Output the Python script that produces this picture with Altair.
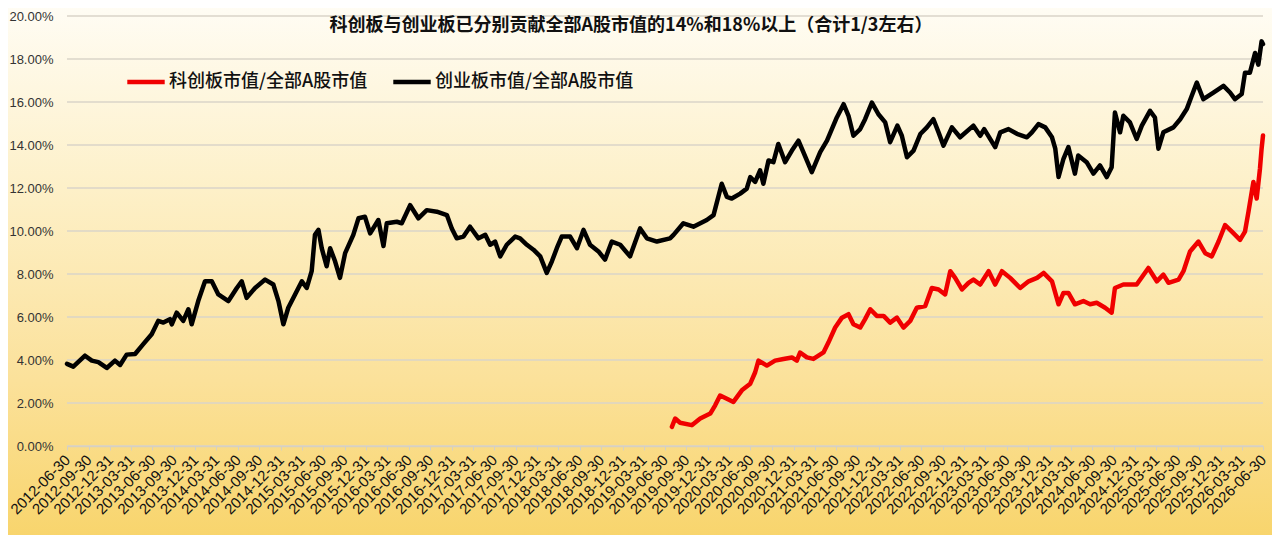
import altair as alt
import pandas as pd

# ---------------- data ----------------
cyb_name = "创业板市值/全部A股市值"
kcb_name = "科创板市值/全部A股市值"

cyb_dates = [
    "2012-06-30","2012-07-27","2012-09-15","2012-10-14","2012-11-11","2012-12-17","2013-01-21","2013-02-12",
    "2013-03-12","2013-04-17","2013-05-22","2013-06-27","2013-07-25","2013-08-16","2013-09-13","2013-09-21",
    "2013-10-12","2013-11-09","2013-12-01","2013-12-15","2014-01-12","2014-02-10","2014-03-11","2014-04-08",
    "2014-05-21","2014-06-26","2014-07-17","2014-08-07","2014-09-12","2014-10-25","2014-11-29","2014-12-21",
    "2015-01-11","2015-02-01","2015-03-02","2015-03-31","2015-04-21","2015-05-12","2015-05-26","2015-06-10",
    "2015-06-24","2015-07-15","2015-07-30","2015-08-20","2015-09-10","2015-10-02","2015-11-06","2015-11-28",
    "2015-12-26","2016-01-17","2016-02-21","2016-03-14","2016-03-28","2016-05-10","2016-05-31","2016-07-06",
    "2016-08-10","2016-09-15","2016-10-28","2016-12-10","2016-12-31","2017-01-21","2017-02-19","2017-03-19",
    "2017-04-24","2017-05-23","2017-06-13","2017-07-04","2017-07-26","2017-08-23","2017-09-28","2017-10-19",
    "2017-11-17","2017-12-15","2018-01-13","2018-02-10","2018-03-04","2018-03-25","2018-04-15","2018-05-21",
    "2018-06-19","2018-07-17","2018-08-14","2018-09-19","2018-10-17","2018-11-15","2018-12-21","2019-02-01",
    "2019-03-16","2019-04-14","2019-05-27","2019-07-22","2019-08-06","2019-09-17","2019-10-30","2019-12-26",
    "2020-01-24","2020-02-28","2020-03-21","2020-04-11","2020-05-17","2020-06-14","2020-06-29","2020-07-20",
    "2020-08-10","2020-08-24","2020-09-15","2020-10-06","2020-10-27","2020-11-25","2020-12-24","2021-01-21",
    "2021-02-11","2021-03-19","2021-04-24","2021-05-23","2021-07-04","2021-08-02","2021-08-23","2021-09-13",
    "2021-10-12","2021-11-02","2021-12-01","2021-12-29","2022-01-27","2022-02-17","2022-03-20","2022-04-08",
    "2022-04-30","2022-05-28","2022-06-26","2022-07-24","2022-08-21","2022-09-12","2022-10-03","2022-11-08",
    "2022-12-13","2023-02-08","2023-03-09","2023-03-26","2023-05-12","2023-06-03","2023-07-08","2023-08-13",
    "2023-09-25","2023-10-16","2023-11-13","2023-12-12","2024-01-10","2024-01-24","2024-02-07","2024-02-28",
    "2024-03-20","2024-04-17","2024-05-01","2024-06-06","2024-07-05","2024-08-02","2024-08-31","2024-09-21",
    "2024-10-05","2024-10-27","2024-11-10","2024-12-08","2025-01-06","2025-01-28","2025-03-04","2025-03-25",
    "2025-04-09","2025-04-30","2025-06-12","2025-07-11","2025-08-08","2025-08-29","2025-09-20","2025-10-18",
    "2025-11-30","2026-01-12","2026-02-09","2026-03-02","2026-03-31","2026-04-14","2026-05-05","2026-05-27",
    "2026-06-10","2026-06-24","2026-06-30",
]
cyb_values = [
    3.82, 3.69, 4.20, 3.97, 3.90, 3.63, 3.97, 3.77,
    4.25, 4.28, 4.74, 5.20, 5.82, 5.74, 5.90, 5.66,
    6.20, 5.82, 6.36, 5.66, 6.74, 7.66, 7.66, 7.05,
    6.74, 7.35, 7.66, 6.89, 7.35, 7.74, 7.51, 6.74,
    5.66, 6.43, 7.05, 7.66, 7.35, 8.13, 9.82, 10.05,
    9.20, 8.36, 9.20, 8.59, 7.82, 8.97, 9.82, 10.59,
    10.66, 9.89, 10.51, 9.30, 10.36, 10.43, 10.36, 11.20,
    10.59, 10.97, 10.90, 10.74, 10.12, 9.66, 9.74, 10.20,
    9.66, 9.82, 9.36, 9.51, 8.82, 9.36, 9.74, 9.66,
    9.36, 9.13, 8.82, 8.05, 8.59, 9.20, 9.74, 9.74,
    9.20, 10.05, 9.36, 9.05, 8.67, 9.51, 9.36, 8.82,
    10.12, 9.66, 9.51, 9.66, 9.82, 10.36, 10.20, 10.51,
    10.74, 12.20, 11.59, 11.51, 11.74, 11.97, 12.51, 12.28,
    12.82, 12.20, 13.28, 13.20, 14.05, 13.20, 13.74, 14.20,
    13.67, 12.74, 13.67, 14.20, 15.28, 15.90, 15.36, 14.43,
    14.74, 15.20, 15.97, 15.43, 15.05, 14.13, 14.90, 14.43,
    13.43, 13.74, 14.51, 14.82, 15.20, 14.59, 13.97, 14.82,
    14.36, 14.90, 14.43, 14.74, 13.90, 14.59, 14.74, 14.52,
    14.36, 14.59, 14.97, 14.82, 14.36, 13.83, 12.51, 13.36,
    13.90, 12.67, 13.51, 13.20, 12.67, 13.05, 12.51, 12.97,
    15.51, 14.59, 15.36, 15.05, 14.28, 14.90, 15.59, 15.28,
    13.83, 14.59, 14.82, 15.20, 15.67, 16.28, 16.90, 16.13,
    16.44, 16.75, 16.44, 16.13, 16.37, 17.36, 17.36, 18.28,
    17.74, 18.82, 18.70,
]

kcb_dates = [
    "2019-07-30","2019-08-13","2019-09-03","2019-10-23","2019-11-28","2020-01-10","2020-01-31","2020-02-21",
    "2020-03-21","2020-04-18","2020-05-24","2020-06-29","2020-07-20","2020-08-03","2020-09-08","2020-10-13",
    "2020-11-18","2020-12-24","2021-01-14","2021-01-28","2021-02-26","2021-03-26","2021-05-08","2021-05-29",
    "2021-06-27","2021-07-26","2021-08-23","2021-09-13","2021-10-12","2021-11-02","2021-11-24","2021-12-22",
    "2022-01-20","2022-02-17","2022-03-18","2022-04-15","2022-05-14","2022-06-11","2022-07-17","2022-08-14",
    "2022-09-12","2022-10-10","2022-11-01","2022-11-22","2022-12-21","2023-01-18","2023-02-08","2023-03-09",
    "2023-04-14","2023-05-12","2023-06-10","2023-07-15","2023-08-27","2023-10-02","2023-11-07","2023-12-05",
    "2024-01-10","2024-02-07","2024-02-28","2024-03-20","2024-04-17","2024-05-23","2024-06-21","2024-07-19",
    "2024-08-24","2024-09-21","2024-10-05","2024-11-10","2024-12-08","2025-01-06","2025-02-25","2025-04-02",
    "2025-04-30","2025-05-22","2025-07-04","2025-07-25","2025-08-22","2025-09-27","2025-10-26","2025-11-23",
    "2025-12-22","2026-01-19","2026-02-17","2026-03-24","2026-04-14","2026-04-29","2026-05-20","2026-06-03",
    "2026-06-17","2026-06-24","2026-06-30",
]
kcb_values = [
    0.89, 1.28, 1.08, 0.97, 1.28, 1.51, 1.89, 2.35,
    2.20, 2.05, 2.59, 2.90, 3.43, 3.97, 3.74, 3.97,
    4.05, 4.12, 3.97, 4.35, 4.12, 4.05, 4.35, 4.81,
    5.51, 5.97, 6.13, 5.66, 5.51, 5.90, 6.36, 6.05,
    6.05, 5.74, 5.97, 5.51, 5.82, 6.43, 6.51, 7.35,
    7.28, 7.05, 8.13, 7.82, 7.28, 7.59, 7.74, 7.51,
    8.13, 7.51, 8.13, 7.82, 7.35, 7.66, 7.82, 8.05,
    7.66, 6.59, 7.12, 7.12, 6.59, 6.74, 6.59, 6.66,
    6.43, 6.20, 7.35, 7.51, 7.51, 7.51, 8.28, 7.66,
    7.97, 7.59, 7.74, 8.13, 9.05, 9.51, 8.97, 8.82,
    9.51, 10.28, 9.97, 9.59, 9.97, 10.90, 12.28, 11.51,
    12.90, 13.83, 14.44,
]

y_ticks = [0, 2, 4, 6, 8, 10, 12, 14, 16, 18, 20]
x_tick_years = list(range(2012, 2027))
x_tick_monthdays = [(3, 31), (6, 30), (9, 30), (12, 31)]
x_first, x_last = (2012, 6, 30), (2026, 6, 30)

title_text = "科创板与创业板已分别贡献全部A股市值的14%和18%以上（合计1/3左右）"

# ---------------- build tables ----------------
df = pd.concat([
    pd.DataFrame({"date": pd.to_datetime(cyb_dates), "value": cyb_values, "series": cyb_name}),
    pd.DataFrame({"date": pd.to_datetime(kcb_dates), "value": kcb_values, "series": kcb_name}),
], ignore_index=True)
grid_df = pd.DataFrame({"value": y_ticks})

tick_values = []
for yr in x_tick_years:
    for m, d in x_tick_monthdays:
        if x_first <= (yr, m, d) <= x_last:
            tick_values.append(alt.DateTime(year=yr, month=m, date=d))

PLOT_W, PLOT_H = 1196, 430
PAD = {"left": 59, "top": 8, "right": 9, "bottom": 89}
BG_EXTRA = 10

CJK = "Noto Sans CJK SC"
LAT = "Liberation Sans"

y_scale = alt.Scale(domain=[0, 20], nice=False, zero=True)
y_axis = alt.Axis(
    title=None,
    values=y_ticks,
    labelExpr="format(datum.value, '.2f') + '%'",
    labelFont=LAT,
    labelFontSize=13,
    labelColor="#333333",
    labelPadding=14,
    domain=False,
    ticks=False,
    grid=False,
    zindex=1,
)

bg_gradient = alt.Gradient(
    gradient="linear",
    stops=[
        alt.GradientStop(color="#FFFDF6", offset=0),
        alt.GradientStop(color="#FDF0C8", offset=0.35),
        alt.GradientStop(color="#FBE19A", offset=0.7),
        alt.GradientStop(color="#F8D46A", offset=1),
    ],
    x1=0, x2=0, y1=0, y2=1,
)

background = alt.Chart(alt.Data(values=[{"bg": 1}])).mark_rect(
    fill=bg_gradient
).encode(
    x=alt.value(-PAD["left"] - BG_EXTRA),
    x2=alt.value(PLOT_W + PAD["right"] + BG_EXTRA),
    y=alt.value(-PAD["top"] - BG_EXTRA),
    y2=alt.value(PLOT_H + PAD["bottom"] + BG_EXTRA),
)

grid = alt.Chart(grid_df).mark_rule(color="#DAD5C9", strokeWidth=1.5).encode(
    y=alt.Y("value:Q", scale=y_scale, axis=y_axis),
)

lines = alt.Chart(df).mark_line(strokeWidth=4.5, strokeJoin="round", strokeCap="round").encode(
    x=alt.X(
        "date:T",
        scale=alt.Scale(domain=[alt.DateTime(year=2012, month=6, date=30),
                                alt.DateTime(year=2026, month=6, date=30)]),
        axis=alt.Axis(
            title=None,
            values=tick_values,
            format="%Y-%m-%d",
            labelAngle=-45,
            labelAlign="right",
            labelBaseline="middle",
            labelOverlap=False,
            labelFlush=False,
            labelBound=False,
            labelFont=LAT,
            labelFontSize=15,
            labelColor="#111111",
            labelPadding=7,
            domainColor="#D6D0C2",
            domainWidth=1.5,
            tickColor="#D6D0C2",
            tickSize=4,
            grid=False,
            zindex=1,
        ),
    ),
    y=alt.Y("value:Q", scale=y_scale, axis=y_axis),
    color=alt.Color(
        "series:N",
        scale=alt.Scale(domain=[kcb_name, cyb_name], range=["#F00000", "#000000"]),
        legend=alt.Legend(
            title=None,
            orient="none",
            legendX=58,
            legendY=45,
            direction="horizontal",
            symbolType="stroke",
            symbolStrokeWidth=4.5,
            symbolSize=1400,
            labelOffset=2,
            columnPadding=16,
            labelFont=CJK,
            labelFontSize=18,
            labelFontWeight=500,
            labelColor="#111111",
            labelLimit=400,
            zindex=2,
        ),
    ),
)

title_mark = alt.Chart(alt.Data(values=[{"t": title_text}])).mark_text(
    font=CJK, fontSize=18, fontWeight="bold", color="#111111",
    align="center", baseline="middle",
).encode(
    text="t:N",
    x=alt.value(PLOT_W / 2 - 34),
    y=alt.value(10),
)

chart = alt.layer(background, grid, lines, title_mark).properties(
    width=PLOT_W,
    height=PLOT_H,
    padding=PAD,
    autosize=alt.AutoSizeParams(type="none"),
).configure_view(stroke=None)

chart.save("out.html", embed_options={"renderer": "svg", "actions": False})
